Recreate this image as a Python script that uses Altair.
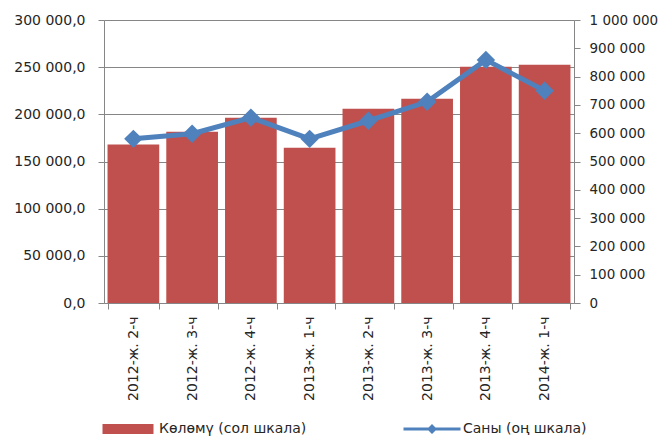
import altair as alt
import pandas as pd

categories = ["2012-ж. 2-ч", "2012-ж. 3-ч", "2012-ж. 4-ч", "2013-ж. 1-ч",
              "2013-ж. 2-ч", "2013-ж. 3-ч", "2013-ж. 4-ч", "2014-ж. 1-ч"]
volume = [168000, 181500, 196500, 164500, 206000, 216500, 250500, 252500]
count = [580000, 598000, 655000, 580000, 644000, 711000, 859000, 750000]
left_ticks = [0, 50000, 100000, 150000, 200000, 250000, 300000]
right_ticks = [0, 100000, 200000, 300000, 400000, 500000, 600000, 700000, 800000, 900000, 1000000]

vol_name = "Көлөмү (сол шкала)"
cnt_name = "Саны (оң шкала)"

df = pd.DataFrame({"cat": categories, "vol": volume, "cnt": count})

RED = "#C0504D"
BLUE = "#4F81BD"
GRID = "#868686"
FONT = "DejaVu Sans"
TXT = "#262626"

x = alt.X("cat:N", sort=categories, title=None,
          scale=alt.Scale(paddingInner=0.12, paddingOuter=0.06),
          axis=alt.Axis(labelAngle=-90, tickBand="extent", tickSize=6,
                        labelPadding=7, domainColor=GRID, tickColor=GRID,
                        labelFont=FONT, labelFontSize=14, labelColor=TXT, grid=False))

bars = alt.Chart(df).mark_bar(color=RED).encode(
    x=x,
    y=alt.Y("vol:Q", title=None,
            scale=alt.Scale(domain=[0, 300000], nice=False),
            axis=alt.Axis(values=left_ticks, format=",.1f", orient="left",
                          grid=True, gridColor=GRID, tickSize=6, labelPadding=13,
                          domainColor=GRID, tickColor=GRID, labelOverlap=False,
                          labelFont=FONT, labelFontSize=14, labelColor=TXT)),
    color=alt.Color("series:N",
                    scale=alt.Scale(domain=[vol_name], range=[RED]),
                    legend=alt.Legend(title=None, orient="none", legendX=14, legendY=399,
                                      symbolType="M-2.55,-0.5H2.55V0.5H-2.55Z",
                                      symbolSize=400, labelOffset=21, padding=0,
                                      symbolStrokeWidth=0,
                                      labelFont=FONT, labelFontSize=14, labelColor=TXT)),
).transform_calculate(series=f"'{vol_name}'")

right_axis = alt.Axis(values=right_ticks, format=",d", orient="right",
                      grid=False, tickSize=6, labelPadding=9, tickCount=11,
                      domainColor=GRID, tickColor=GRID, labelOverlap=False,
                      labelFont=FONT, labelFontSize=13.5, labelColor=TXT)
right_scale = alt.Scale(domain=[0, 1000000], nice=False)

line = alt.Chart(df).mark_line(color=BLUE, strokeWidth=5).encode(
    x=alt.X("cat:N", sort=categories),
    y=alt.Y("cnt:Q", title=None, scale=right_scale, axis=right_axis),
)

points = alt.Chart(df).mark_point(filled=True, shape="diamond", size=340, opacity=1).encode(
    x=alt.X("cat:N", sort=categories),
    y=alt.Y("cnt:Q", title=None, scale=right_scale, axis=right_axis),
    fill=alt.Fill("series:N",
                  scale=alt.Scale(domain=[cnt_name], range=[BLUE]),
                  legend=alt.Legend(title=None, orient="none", legendX=318, legendY=399,
                                    symbolType="M-2.85,-0.15H2.85V0.15H-2.85Z M0,-0.5L0.5,0L0,0.5L-0.5,0Z",
                                    symbolSize=400, labelOffset=21, padding=0,
                                    symbolOpacity=1, symbolStrokeWidth=0,
                                    labelFont=FONT, labelFontSize=14, labelColor=TXT)),
).transform_calculate(series=f"'{cnt_name}'")

right = alt.layer(line, points)

chart = alt.layer(bars, right).resolve_scale(y="independent").properties(
    width=470, height=283,
    padding={"left": 96, "top": 12, "right": 84, "bottom": 136},
    autosize=alt.AutoSizeParams(type="none"),
).configure(
    locale={"number": {"decimal": ",", "thousands": " ", "grouping": [3], "currency": ["", ""]}}
).configure_view(stroke=None).configure_axis(labelFont=FONT)

chart.save("out.html", embed_options={"renderer": "svg", "actions": False})
